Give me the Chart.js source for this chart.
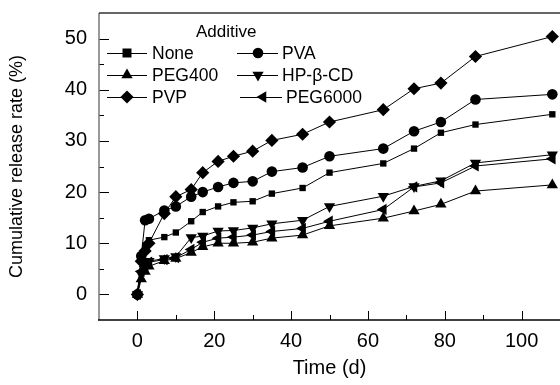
<!DOCTYPE html>
<html>
<head>
<meta charset="utf-8">
<script src="https://cdn.jsdelivr.net/npm/chart.js@4/dist/chart.umd.min.js"></script>
<style>
  html, body { margin: 0; padding: 0; background: #fff; }
  #wrap { width: 560px; height: 385px; }
</style>
</head>
<body>
<div id="wrap"><canvas id="chart" width="560" height="385"></canvas></div>
<script>
// days and release values (%)
const days = [0, 1, 2, 3, 7, 10, 14, 17, 21, 25, 30, 35, 43, 50, 64, 72, 79, 88, 108];
const none = [0, 7.5, 9.5, 10.6, 11.2, 12.1, 14.3, 16.1, 17.2, 18.0, 18.2, 19.7, 20.8, 23.8, 25.6, 28.5, 31.6, 33.2, 35.2];
const pva = [0, 7.5, 14.5, 14.8, 16.4, 17.2, 19.1, 20.0, 21.0, 21.8, 22.1, 24.0, 24.8, 27.0, 28.5, 31.9, 33.7, 38.1, 39.1];
const peg400 = [0, 3.0, 4.5, 5.5, 6.6, 7.0, 8.2, 9.3, 10.0, 10.0, 10.2, 11.0, 11.6, 13.4, 14.9, 16.3, 17.6, 20.2, 21.4];
const hpcd = [0, 4.0, 5.5, 6.5, 7.0, 7.4, 11.1, 11.4, 12.4, 12.5, 13.0, 13.8, 14.5, 17.2, 19.2, 21.1, 22.2, 25.7, 27.3];
const pvp = [0, 6.5, 8.5, 10.0, 15.8, 19.1, 20.5, 23.8, 26.0, 27.0, 28.0, 30.1, 31.3, 33.7, 36.1, 40.2, 41.3, 46.5, 50.4];
const peg6000 = [0, 4.5, 5.5, 6.3, 6.8, 7.2, 8.8, 10.2, 11.0, 11.2, 11.6, 12.3, 12.9, 14.3, 16.6, 21.0, 21.8, 25.1, 26.5];

const xTickLabels = [0, 20, 40, 60, 80, 100];
const yTickLabels = [0, 10, 20, 30, 40, 50];

const FONT = '"Liberation Sans", Arial, sans-serif';

function series(label, values, style, radius, rotation) {
    return {
        label: label,
        data: days.map((d, i) => ({ x: d, y: values[i] })),
        borderColor: '#000',
        backgroundColor: '#000',
        borderWidth: 1,
        pointStyle: style,
        pointRadius: radius,
        pointRotation: rotation || 0,
        pointBorderWidth: 0,
        pointBackgroundColor: '#000',
        tension: 0
    };
}

const datasets = [
    series('None', none, 'rect', 4.5),
    series('PVA', pva, 'circle', 5.3),
    series('PEG400', peg400, 'triangle', 6.5),
    series('HP-\u03b2-CD', hpcd, 'triangle', 6.5, 180),
    series('PVP', pvp, 'rectRot', 6.6),
    series('PEG6000', peg6000, 'triangle', 6.5, 270)
];

// legend layout: [lineStart, marker, lineEnd, textX, rowY]
const legendSpots = [
    [107, 127, 147, 152, 53],
    [237, 258, 278, 282, 53],
    [107, 127, 147, 152, 75],
    [237, 258, 278, 282, 75],
    [107, 127, 147, 152, 97],
    [240, 263, 282, 286, 97]
];

function drawMarker(ctx, ds, x, y) {
    const r = ds.pointRadius;
    const rot = (ds.pointRotation || 0) * Math.PI / 180;
    ctx.beginPath();
    if (ds.pointStyle === 'circle') {
        ctx.arc(x, y, r, 0, Math.PI * 2);
    } else if (ds.pointStyle === 'rect') {
        ctx.rect(x - r, y - r, r * 2, r * 2);
    } else if (ds.pointStyle === 'rectRot') {
        ctx.moveTo(x, y - r); ctx.lineTo(x + r, y); ctx.lineTo(x, y + r); ctx.lineTo(x - r, y);
    } else {
        for (let k = 0; k < 3; k++) {
            const a = rot + k * 2 * Math.PI / 3;
            const px = x + Math.sin(a) * r, py = y - Math.cos(a) * r;
            if (k === 0) ctx.moveTo(px, py); else ctx.lineTo(px, py);
        }
    }
    ctx.closePath();
    ctx.fill();
}

const framePlugin = {
    id: 'frame',
    afterDraw(chart) {
        const ctx = chart.ctx;
        const a = chart.chartArea;
        const xs = chart.scales.x, ys = chart.scales.y;
        ctx.save();
        // inward ticks
        ctx.strokeStyle = '#000';
        ctx.lineWidth = 1;
        for (let v = 0; v <= 110; v += 10) {
            const px = Math.round(xs.getPixelForValue(v)) + 0.5;
            const len = v % 20 === 0 ? 9 : 5;
            ctx.beginPath(); ctx.moveTo(px, a.bottom); ctx.lineTo(px, a.bottom - len); ctx.stroke();
        }
        for (let v = 0; v <= 50; v += 5) {
            const py = Math.round(ys.getPixelForValue(v)) + 0.5;
            const len = v % 10 === 0 ? 10 : 5;
            ctx.beginPath(); ctx.moveTo(a.left, py); ctx.lineTo(a.left + len, py); ctx.stroke();
        }
        // axes and top border
        ctx.lineWidth = 1.5;
        ctx.strokeStyle = '#777';
        ctx.beginPath(); ctx.moveTo(a.left, a.top); ctx.lineTo(a.left, a.bottom); ctx.stroke();
        ctx.strokeStyle = '#333';
        ctx.beginPath(); ctx.moveTo(a.left, a.top); ctx.lineTo(a.right, a.top); ctx.stroke();
        ctx.strokeStyle = '#000';
        ctx.beginPath(); ctx.moveTo(a.left - 1, a.bottom); ctx.lineTo(a.right, a.bottom); ctx.stroke();

        // legend
        ctx.fillStyle = '#000';
        ctx.font = '17px ' + FONT;
        ctx.textBaseline = 'middle';
        ctx.textAlign = 'left';
        ctx.fillText('Additive', 196, 32);
        chart.data.datasets.forEach((ds, i) => {
            const [l0, m, l1, tx, y] = legendSpots[i];
            ctx.lineWidth = 1;
            ctx.strokeStyle = '#000';
            ctx.beginPath(); ctx.moveTo(l0, y + 0.5); ctx.lineTo(l1, y + 0.5); ctx.stroke();
            drawMarker(ctx, ds, m, y);
            ctx.font = '17.5px ' + FONT;
            ctx.fillText(ds.label, tx, y + 1);
        });
        ctx.restore();
    }
};

new Chart(document.getElementById('chart'), {
    type: 'line',
    data: { datasets: datasets },
    options: {
        responsive: false,
        animation: false,
        clip: false,
        layout: { autoPadding: false, padding: { top: 13, right: 0, left: 0, bottom: 0 } },
        plugins: { legend: { display: false }, tooltip: { enabled: false } },
        scales: {
            x: {
                type: 'linear',
                min: -10,
                max: 110,
                afterFit: s => { s.height = 65; s.paddingLeft = 0; s.paddingRight = 0; },
                grid: { display: false, drawTicks: false },
                border: { display: false },
                ticks: {
                    stepSize: 10,
                    padding: 9,
                    autoSkip: false,
                    maxRotation: 0,
                    minRotation: 0,
                    color: '#000',
                    font: { family: FONT, size: 20 },
                    callback: v => xTickLabels.includes(v) ? String(v) : ''
                },
                title: {
                    display: true,
                    text: 'Time (d)',
                    color: '#000',
                    font: { family: FONT, size: 20 },
                    padding: { top: 0, bottom: 5 }
                }
            },
            y: {
                type: 'linear',
                min: -5,
                max: 55,
                afterFit: s => { s.width = 99; s.paddingTop = 0; s.paddingBottom = 0; },
                grid: { display: false, drawTicks: false },
                border: { display: false },
                ticks: {
                    stepSize: 5,
                    padding: 12,
                    autoSkip: false,
                    color: '#000',
                    font: { family: FONT, size: 20 },
                    callback: v => yTickLabels.includes(v) ? String(v) : ''
                },
                title: {
                    display: true,
                    text: 'Cumulative release rate (%)',
                    color: '#000',
                    font: { family: FONT, size: 18 },
                    padding: { top: 6, bottom: 0 }
                }
            }
        }
    },
    plugins: [framePlugin]
});
</script>
</body>
</html>
